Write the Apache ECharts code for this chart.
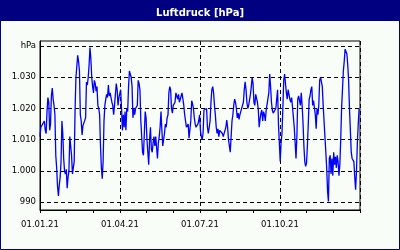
<!DOCTYPE html>
<html>
<head>
<meta charset="utf-8">
<script src="https://cdn.jsdelivr.net/npm/echarts@6/dist/echarts.min.js"></script>
<style>
  html, body { margin: 0; padding: 0; background: #f8fdf8; }
  #chart { width: 400px; height: 250px; }
</style>
</head>
<body>
<div id="chart"></div>
<script>
  // Luftdruck, Tageswerte 2021 (hPa)
  var q1 = [
    1011, 1014, 1014.5, 1015, 1015.5, 1016, 1013, 1012, 1019, 1023.5,
    1022, 1013, 1015, 1024, 1026.5, 1023, 1021, 1018, 1005, 1001,
    995, 992, 995.5, 998, 1003, 1016, 1012, 1004, 1000, 999,
    1000.5, 994.5, 998, 1000, 1011, 1011.5, 1005, 999, 1001, 1003,
    1019.5, 1030, 1030, 1037, 1035, 1032, 1018, 1016, 1011.5, 1014.5,
    1014, 1015, 1017, 1028.5, 1027.5, 1030, 1034, 1039.5, 1036, 1030,
    1027, 1025, 1029, 1028, 1025.5, 1027, 1021, 1020, 1018, 1008,
    1001, 997.5, 1003, 1016, 1021, 1023, 1024.5, 1023.5, 1027.5, 1024,
    1025, 1025, 1022, 1021, 1018, 1021, 1020.5, 1028, 1026, 1021,
    1023.5
  ]
  var q2 = [
    1024, 1026, 1020, 1013, 1018, 1014, 1019, 1013, 1020, 1019,
    1027, 1032, 1031, 1030, 1027, 1017, 1020, 1018, 1020, 1019.5,
    1021, 1029, 1028, 1026, 1016, 1011, 1006, 1005, 1012, 1019,
    1017, 1010, 1006, 1002, 1010, 1014, 1007, 1006, 1009, 1011,
    1008, 1011, 1007.5, 1004, 1009, 1011, 1014, 1019, 1013, 1008,
    1010, 1012, 1015, 1014, 1017, 1018, 1025, 1027, 1026, 1020,
    1018.5, 1021, 1021.5, 1022, 1025, 1025, 1023, 1024.5, 1022, 1022,
    1024, 1025, 1023, 1021, 1018, 1016, 1014, 1013.5, 1015, 1010.5,
    1011, 1016, 1022.5, 1021.5, 1020, 1017, 1015, 1014, 1014.5, 1015
  ]
  var q3 = [
    1016, 1018, 1013, 1011, 1010, 1012, 1019.5, 1019, 1020, 1020,
    1014, 1012, 1012.5, 1016, 1022, 1026, 1027, 1025, 1021, 1018,
    1014, 1012, 1013.5, 1011, 1013, 1013, 1013, 1012, 1011, 1011.5,
    1013, 1014, 1016.3, 1014, 1010, 1008, 1006, 1011, 1016, 1018,
    1021, 1023, 1022, 1020, 1017, 1018.5, 1016.5, 1018, 1019, 1019.5,
    1019.5, 1022, 1026, 1028.5, 1026, 1022, 1020, 1021, 1021, 1024.5,
    1027, 1030, 1028, 1022, 1021, 1024.5, 1024, 1022, 1019.5, 1014,
    1016.5, 1018.5, 1019.5, 1016, 1019, 1018, 1016, 1019.5, 1019.5, 1019.5,
    1025, 1031, 1027, 1022, 1019.5, 1018.5, 1018, 1019, 1020, 1023,
    1026, 1015
  ]
  var q4 = [
    1009, 1003, 1009, 1012, 1020, 1029, 1031, 1028, 1025, 1023,
    1026, 1024.5, 1023, 1022, 1023.5, 1020.5, 1020, 1014, 1009, 1004,
    1011, 1023, 1024, 1023.5, 1021, 1025, 1021, 1015.5, 1008, 1003,
    1001.5, 1002.5, 1008, 1015, 1023, 1024, 1026, 1027, 1021, 1022.5,
    1022, 1018, 1013.5, 1020, 1018, 1021, 1029, 1030, 1030.5, 1027,
    1021, 1016, 1011, 1011, 1001, 993.5, 990.2, 1004, 1005, 999,
    1004, 998.5, 1006, 1002, 1004.5, 1001, 1005, 1003, 998.5, 1002,
    1010, 1020, 1026, 1032, 1035, 1039, 1039, 1037.5, 1034, 1029,
    1020, 1013, 1006, 1004, 1004, 1003, 998, 994, 1000, 1009,
    1015, 1020
  ]
  var xLabels = ['01.01.21', '01.04.21', '01.07.21', '01.10.21']
  var yTicks = [990, 1000, 1010, 1020, 1030, 1040]

  var druck = q1.concat(q2, q3, q4)
  // x in Monaten (0..12), ein Punkt pro Tag
  var punkte = druck.map(function (v, i) { return [i * 12 / 365, v] })

  var font = 'DejaVu Sans'
  var chart = echarts.init(document.getElementById('chart'))
  chart.setOption({
    backgroundColor: '#f8fdf8',
    animation: false,
    title: {
      text: 'Luftdruck [hPa]',
      left: 'center',
      top: 3,
      textStyle: { color: '#ffffff', fontFamily: font, fontWeight: 'bold', fontSize: 10 }
    },
    graphic: [
      { type: 'rect', z: -1, shape: { x: 0, y: 0, width: 400, height: 21 }, style: { fill: '#000080' } },
      { type: 'rect', z: -1, shape: { x: 0.5, y: 0.5, width: 399, height: 249 }, style: { fill: 'none', stroke: '#000080', lineWidth: 1 } }
    ],
    grid: {
      left: 40, right: 40, top: 41, bottom: 40,
      show: true,
      borderColor: '#000',
      borderWidth: 1
    },
    xAxis: [
      {
        type: 'value',
        min: 0, max: 12, interval: 1,
        axisLine: { lineStyle: { color: '#000', width: 1 } },
        axisTick: { show: true, length: 3, lineStyle: { color: '#000' } },
        axisLabel: {
          margin: 10,
          color: '#000',
          fontFamily: font,
          fontSize: 8.5,
          formatter: function (v) {
            return (v % 3 === 0 && v < 12) ? xLabels[v / 3] : ''
          }
        },
        splitLine: { show: false }
      },
      {
        type: 'value',
        position: 'bottom',
        min: 0, max: 12, interval: 3,
        axisLine: { show: false },
        axisTick: { show: false },
        axisLabel: { show: false },
        splitLine: { show: true, lineStyle: { color: '#000', type: [4, 3], width: 1 } }
      }
    ],
    yAxis: {
      type: 'value',
      min: 987.5, max: 1041.6,
      axisLine: { show: true, lineStyle: { color: '#000', width: 1 } },
      axisTick: { show: false, customValues: yTicks },
      axisLabel: {
        customValues: yTicks,
        margin: 4,
        color: '#000',
        fontFamily: font,
        fontSize: 8.5,
        formatter: function (v) {
          if (v === 1040) return 'hPa'
          if (v >= 1000) return '1.' + String(v - 1000).padStart(3, '0')
          return String(v)
        }
      },
      splitLine: { show: true, lineStyle: { color: '#000', type: [4, 3], width: 1 } }
    },
    series: [
      {
        name: 'Luftdruck',
        type: 'line',
        xAxisIndex: 0,
        data: punkte,
        showSymbol: false,
        symbol: 'none',
        lineStyle: { color: '#0000ff', width: 1.3 }
      }
    ]
  })
</script>
</body>
</html>
